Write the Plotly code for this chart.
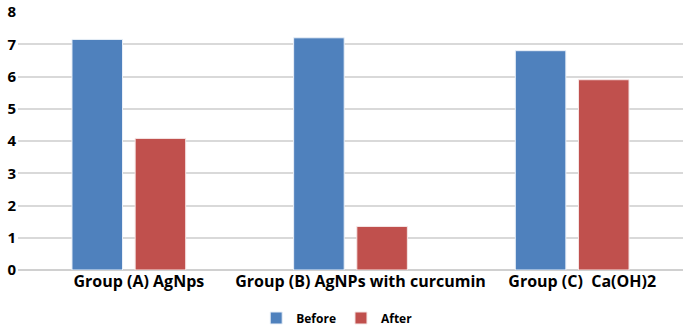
import plotly.graph_objects as go

categories = ["Group (A) AgNps", "Group (B) AgNPs with curcumin", "Group (C)  Ca(OH)2"]
before = [7.15, 7.2, 6.8]
after = [4.08, 1.35, 5.9]
yticks = [0, 1, 2, 3, 4, 5, 6, 7, 8]

font_family = "Open Sans, Liberation Sans, Arial"

fig = go.Figure()
fig.add_trace(go.Bar(name="Before", x=categories, y=before,
                     marker=dict(color="#4F81BD", line=dict(color="#EAF0F8", width=1))))
fig.add_trace(go.Bar(name="After", x=categories, y=after,
                     marker=dict(color="#C0504D", line=dict(color="#F5E6E6", width=1))))

fig.update_layout(
    width=685, height=326,
    margin=dict(l=18, r=2, t=12, b=56, autoexpand=False),
    paper_bgcolor="white", plot_bgcolor="white",
    barmode="group", bargap=0.43, bargroupgap=0.2,
    font=dict(family=font_family, size=14, color="black"),
    legend=dict(orientation="h", x=0.48, xanchor="center", y=-0.186, yanchor="middle",
                font=dict(size=12, family=font_family, weight="bold"), itemwidth=30,
                traceorder="normal"),
    xaxis=dict(showgrid=False, showline=False, ticks="", automargin=False,
               ticklabelshift=10,
               tickfont=dict(size=16, family=font_family, weight="bold")),
    yaxis=dict(range=[0, 8], tickvals=yticks, showgrid=True, gridcolor="#D9D9D9", gridwidth=1.5,
               zeroline=True, zerolinecolor="#D0D0D0", zerolinewidth=1.5, automargin=False,
               tickfont=dict(size=15, family=font_family, weight="bold"), ticklabelstandoff=1),
)
fig.write_html("out.html", config={"displayModeBar": False},
               post_script="document.body.style.margin='0';")
